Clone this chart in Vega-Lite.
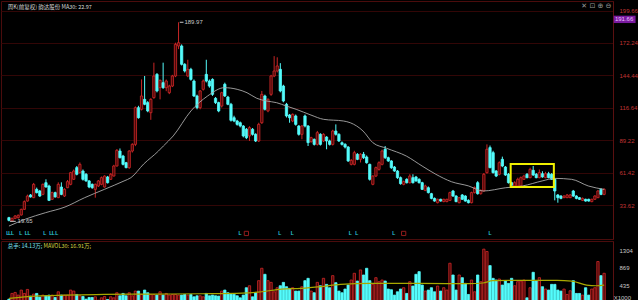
{
"$schema":"https://vega.github.io/schema/vega-lite/v6.json",
"background":"#000000",
"padding":0,
"spacing":0,
"config":{"view":{"stroke":"#4a0c0c","strokeWidth":1},"text":{"font":"Liberation Sans"}},
"datasets":{
"k":[
{"t":0,"o":22.8,"h":23.5,"l":19.65,"c":20.5,"v":95},
{"t":1,"o":20.0,"h":22.8,"l":19.7,"c":22.2,"v":236},
{"t":2,"o":22.2,"h":25,"l":21.5,"c":24.2,"v":261},
{"t":3,"o":22.8,"h":25.5,"l":22,"c":24.8,"v":195},
{"t":4,"o":25.1,"h":30.5,"l":24.5,"c":29.9,"v":319},
{"t":5,"o":29.9,"h":37.5,"l":29.5,"c":36.5,"v":236},
{"t":6,"o":37,"h":42.5,"l":36.5,"c":41.3,"v":335},
{"t":7,"o":42.2,"h":43,"l":40,"c":40.5,"v":170},
{"t":8,"o":39.9,"h":52.5,"l":39.5,"c":51.3,"v":220},
{"t":9,"o":47,"h":48.5,"l":43.5,"c":44.2,"v":236},
{"t":10,"o":45.6,"h":46.5,"l":40.5,"c":41.3,"v":145},
{"t":11,"o":42.7,"h":52,"l":42,"c":51.3,"v":195},
{"t":12,"o":52.7,"h":55.6,"l":48.5,"c":49,"v":178},
{"t":13,"o":49.9,"h":51,"l":37,"c":37.6,"v":195},
{"t":14,"o":38.5,"h":45,"l":38,"c":44.2,"v":195},
{"t":15,"o":44.2,"h":45,"l":40,"c":40.5,"v":137},
{"t":16,"o":39.9,"h":53,"l":39.5,"c":51.3,"v":277},
{"t":17,"o":49,"h":53,"l":42,"c":42.7,"v":195},
{"t":18,"o":41.3,"h":48,"l":40.5,"c":47,"v":195},
{"t":19,"o":48.4,"h":55,"l":48,"c":53.6,"v":195},
{"t":20,"o":51.3,"h":62,"l":50.5,"c":61.3,"v":319},
{"t":21,"o":55.6,"h":64,"l":55,"c":62.7,"v":294},
{"t":22,"o":65.6,"h":67,"l":59,"c":59.9,"v":211},
{"t":23,"o":61.3,"h":70,"l":60.5,"c":68.4,"v":178},
{"t":24,"o":62.7,"h":64,"l":54.5,"c":55.6,"v":161},
{"t":25,"o":59.9,"h":61,"l":53.5,"c":54.2,"v":95},
{"t":26,"o":54.2,"h":55,"l":48,"c":49,"v":137},
{"t":27,"o":51.3,"h":52,"l":47.5,"c":48.4,"v":137},
{"t":28,"o":47,"h":52,"l":39.9,"c":51.3,"v":153},
{"t":29,"o":49.9,"h":55,"l":49,"c":54.2,"v":70},
{"t":30,"o":51.3,"h":58,"l":50.5,"c":57,"v":128},
{"t":31,"o":49,"h":59,"l":48.5,"c":58.4,"v":161},
{"t":32,"o":57.6,"h":58.5,"l":52,"c":52.7,"v":87},
{"t":33,"o":55.6,"h":61,"l":55,"c":59.9,"v":153},
{"t":34,"o":58.4,"h":68,"l":58,"c":67,"v":128},
{"t":35,"o":67,"h":81.5,"l":66.5,"c":80.4,"v":253},
{"t":36,"o":79.8,"h":82,"l":73.5,"c":74.1,"v":178},
{"t":37,"o":75.5,"h":76.5,"l":67.5,"c":68.4,"v":236},
{"t":38,"o":69.8,"h":70.5,"l":65,"c":65.6,"v":178},
{"t":39,"o":65.6,"h":80.5,"l":64.5,"c":79.8,"v":253},
{"t":40,"o":79.8,"h":86.5,"l":78.5,"c":85.5,"v":178},
{"t":41,"o":85.5,"h":118,"l":84,"c":116.9,"v":294},
{"t":42,"o":116.9,"h":118.5,"l":107.5,"c":108.3,"v":294},
{"t":43,"o":115.5,"h":141.1,"l":114.5,"c":126.9,"v":211},
{"t":44,"o":124,"h":144,"l":119,"c":119.8,"v":319},
{"t":45,"o":121.2,"h":122.5,"l":113,"c":114.1,"v":253},
{"t":46,"o":112.6,"h":125,"l":106.5,"c":124,"v":211},
{"t":47,"o":125.5,"h":155.4,"l":124.5,"c":144,"v":211},
{"t":48,"o":145.4,"h":146.5,"l":130,"c":131.2,"v":195},
{"t":49,"o":134,"h":141,"l":124,"c":140.3,"v":277},
{"t":50,"o":138.3,"h":155.4,"l":133,"c":134,"v":195},
{"t":51,"o":134,"h":141,"l":131,"c":139.7,"v":236},
{"t":52,"o":129.7,"h":136.5,"l":128.5,"c":135.4,"v":195},
{"t":53,"o":135.4,"h":145,"l":134.5,"c":144,"v":211},
{"t":54,"o":144,"h":172.5,"l":143,"c":171.1,"v":211},
{"t":55,"o":169.7,"h":189.97,"l":167,"c":172.5,"v":195},
{"t":56,"o":169.7,"h":171,"l":153,"c":154,"v":195},
{"t":57,"o":154,"h":155,"l":147,"c":148.3,"v":211},
{"t":58,"o":144,"h":157.9,"l":143,"c":149.7,"v":195},
{"t":59,"o":149.7,"h":151,"l":140,"c":141.1,"v":211},
{"t":60,"o":139.7,"h":141,"l":126,"c":126.9,"v":153},
{"t":61,"o":126.9,"h":128,"l":115.5,"c":116.9,"v":178},
{"t":62,"o":116.9,"h":132,"l":115.5,"c":131.2,"v":178},
{"t":63,"o":132.6,"h":141,"l":131.5,"c":139.7,"v":153},
{"t":64,"o":145.4,"h":157.9,"l":138.5,"c":139.7,"v":236},
{"t":65,"o":139.7,"h":141,"l":134,"c":135.4,"v":178},
{"t":66,"o":141.1,"h":142,"l":127,"c":128.3,"v":195},
{"t":67,"o":124.9,"h":126,"l":120,"c":121.2,"v":178},
{"t":68,"o":121.2,"h":122,"l":113,"c":114.1,"v":170},
{"t":69,"o":118.3,"h":130.5,"l":117,"c":129.7,"v":294},
{"t":70,"o":136.9,"h":138.3,"l":126,"c":126.9,"v":319},
{"t":71,"o":126,"h":127,"l":119,"c":119.8,"v":253},
{"t":72,"o":119.8,"h":121,"l":105,"c":106.1,"v":220},
{"t":73,"o":108.3,"h":110,"l":104.5,"c":105.5,"v":211},
{"t":74,"o":105.5,"h":106.5,"l":101.5,"c":102.6,"v":178},
{"t":75,"o":104,"h":105,"l":100,"c":101.2,"v":128},
{"t":76,"o":101.2,"h":102,"l":91.5,"c":92.7,"v":195},
{"t":77,"o":98.4,"h":99.5,"l":90,"c":91.2,"v":377},
{"t":78,"o":92.7,"h":101,"l":88.4,"c":99.8,"v":426},
{"t":79,"o":98.4,"h":99.5,"l":93,"c":94.1,"v":153},
{"t":80,"o":94.1,"h":95,"l":87.5,"c":88.4,"v":253},
{"t":81,"o":88.4,"h":104,"l":87.5,"c":102.6,"v":551},
{"t":82,"o":104,"h":131.2,"l":103,"c":128.3,"v":857},
{"t":83,"o":126.9,"h":128,"l":114.5,"c":115.5,"v":708},
{"t":84,"o":114.1,"h":125,"l":113,"c":124,"v":551},
{"t":85,"o":128.3,"h":145,"l":127,"c":144,"v":509},
{"t":86,"o":144,"h":161,"l":143,"c":148.3,"v":277},
{"t":87,"o":148.3,"h":160,"l":147,"c":152.6,"v":377},
{"t":88,"o":149.7,"h":155,"l":130,"c":131.2,"v":426},
{"t":89,"o":135.4,"h":136.5,"l":121.5,"c":122.6,"v":509},
{"t":90,"o":119.8,"h":121,"l":108.5,"c":109.8,"v":402},
{"t":91,"o":110.6,"h":111.5,"l":104,"c":108.3,"v":360},
{"t":92,"o":105.5,"h":112,"l":104.5,"c":111.2,"v":377},
{"t":93,"o":109.8,"h":111,"l":101.5,"c":102.6,"v":294},
{"t":94,"o":101.2,"h":102,"l":93,"c":94.1,"v":294},
{"t":95,"o":94.1,"h":102,"l":89.9,"c":101.2,"v":402},
{"t":96,"o":109.8,"h":111,"l":100,"c":101.2,"v":551},
{"t":97,"o":101.2,"h":102,"l":84.1,"c":87,"v":609},
{"t":98,"o":87.8,"h":92,"l":87,"c":91.2,"v":294},
{"t":99,"o":89.8,"h":90.5,"l":84.5,"c":85.5,"v":253},
{"t":100,"o":85.5,"h":97,"l":84.5,"c":95.5,"v":509},
{"t":101,"o":94.1,"h":95,"l":84.5,"c":85.5,"v":426},
{"t":102,"o":88.4,"h":95,"l":87.5,"c":94.1,"v":609},
{"t":103,"o":91.8,"h":92.5,"l":81.3,"c":88.4,"v":460},
{"t":104,"o":88.4,"h":89.5,"l":84.5,"c":85.5,"v":377},
{"t":105,"o":85.5,"h":98,"l":84.5,"c":96.9,"v":675},
{"t":106,"o":96.9,"h":102.6,"l":93,"c":94.1,"v":501},
{"t":107,"o":94.1,"h":95,"l":87.5,"c":88.4,"v":294},
{"t":108,"o":86.9,"h":88,"l":84.5,"c":85.5,"v":253},
{"t":109,"o":85.5,"h":86.5,"l":82,"c":83.2,"v":344},
{"t":110,"o":83.2,"h":84,"l":70.5,"c":71.3,"v":443},
{"t":111,"o":68.4,"h":73,"l":67.5,"c":71.8,"v":567},
{"t":112,"o":68.4,"h":80,"l":67.5,"c":78.4,"v":733},
{"t":113,"o":77,"h":78,"l":72,"c":72.7,"v":542},
{"t":114,"o":72.7,"h":78,"l":70,"c":77,"v":816},
{"t":115,"o":77,"h":79,"l":73,"c":74.1,"v":691},
{"t":116,"o":74.7,"h":76,"l":69,"c":69.8,"v":857},
{"t":117,"o":68.4,"h":69,"l":54.5,"c":55.6,"v":551},
{"t":118,"o":51.3,"h":59,"l":50.5,"c":58.4,"v":460},
{"t":119,"o":58.4,"h":66.5,"l":57.5,"c":65.6,"v":625},
{"t":120,"o":64.1,"h":71,"l":63,"c":69.8,"v":526},
{"t":121,"o":68.4,"h":81,"l":67.5,"c":79.8,"v":567},
{"t":122,"o":81.3,"h":84.1,"l":73,"c":74.1,"v":542},
{"t":123,"o":74.1,"h":75,"l":70.5,"c":71.3,"v":344},
{"t":124,"o":71.3,"h":72,"l":64.5,"c":65.6,"v":327},
{"t":125,"o":66.1,"h":67,"l":62,"c":62.7,"v":195},
{"t":126,"o":62.7,"h":63.5,"l":56,"c":57,"v":277},
{"t":127,"o":57,"h":58,"l":51,"c":51.9,"v":344},
{"t":128,"o":51.3,"h":54.5,"l":50.5,"c":53.6,"v":377},
{"t":129,"o":55.6,"h":56.5,"l":52,"c":52.7,"v":236},
{"t":130,"o":52.7,"h":60,"l":52,"c":58.4,"v":526},
{"t":131,"o":57,"h":59.9,"l":52,"c":52.7,"v":418},
{"t":132,"o":57.6,"h":58.5,"l":53.5,"c":54.2,"v":708},
{"t":133,"o":55.6,"h":56.5,"l":52,"c":52.7,"v":774},
{"t":134,"o":52.7,"h":53.5,"l":46.5,"c":47,"v":443},
{"t":135,"o":46.1,"h":51,"l":45.5,"c":49.9,"v":294},
{"t":136,"o":48.4,"h":49.5,"l":43.5,"c":44.2,"v":319},
{"t":137,"o":43.3,"h":44,"l":38.5,"c":39.3,"v":377},
{"t":138,"o":39.3,"h":40,"l":36.5,"c":37,"v":277},
{"t":139,"o":35.6,"h":39,"l":35,"c":38.5,"v":418},
{"t":140,"o":38.5,"h":39,"l":36.5,"c":37,"v":294},
{"t":141,"o":36.5,"h":39,"l":36,"c":38.5,"v":377},
{"t":142,"o":36.5,"h":39,"l":36,"c":38.5,"v":319},
{"t":143,"o":37.6,"h":45,"l":37,"c":44.2,"v":981},
{"t":144,"o":45.6,"h":46.5,"l":40.5,"c":41.3,"v":691},
{"t":145,"o":41.3,"h":42,"l":36,"c":36.5,"v":319},
{"t":146,"o":35.6,"h":40.5,"l":35,"c":39.9,"v":691},
{"t":147,"o":42.2,"h":43,"l":38,"c":38.5,"v":625},
{"t":148,"o":41.3,"h":42,"l":36.5,"c":37,"v":484},
{"t":149,"o":37.6,"h":38.5,"l":35,"c":35.6,"v":211},
{"t":150,"o":35.6,"h":45,"l":35,"c":44.2,"v":567},
{"t":151,"o":44.2,"h":49.5,"l":43.5,"c":48.4,"v":277},
{"t":152,"o":52.7,"h":54,"l":42.5,"c":43.3,"v":691},
{"t":153,"o":43.3,"h":47,"l":42.5,"c":46.1,"v":526},
{"t":154,"o":45.6,"h":61,"l":45,"c":59.9,"v":1329},
{"t":155,"o":61.3,"h":85.5,"l":60.5,"c":81.3,"v":1271},
{"t":156,"o":82.7,"h":84.5,"l":65,"c":65.6,"v":923},
{"t":157,"o":78.4,"h":80,"l":60.5,"c":61.3,"v":609},
{"t":158,"o":62.7,"h":63.5,"l":57.5,"c":58.4,"v":567},
{"t":159,"o":59.9,"h":71,"l":59,"c":69.8,"v":592},
{"t":160,"o":72.7,"h":75,"l":66,"c":67,"v":443},
{"t":161,"o":66.1,"h":67,"l":58.5,"c":59.3,"v":551},
{"t":162,"o":59.9,"h":61,"l":52,"c":52.7,"v":484},
{"t":163,"o":52.7,"h":53.5,"l":50,"c":50.5,"v":609},
{"t":164,"o":49.9,"h":54,"l":49,"c":52.7,"v":426},
{"t":165,"o":49.9,"h":57,"l":49,"c":55.6,"v":526},
{"t":166,"o":49.9,"h":58,"l":49,"c":57,"v":542},
{"t":167,"o":55.6,"h":59.5,"l":55,"c":58.4,"v":567},
{"t":168,"o":59.9,"h":61,"l":56.5,"c":57,"v":128},
{"t":169,"o":57,"h":65.5,"l":56.5,"c":64.1,"v":377},
{"t":170,"o":63.3,"h":67,"l":58.5,"c":59.3,"v":758},
{"t":171,"o":59.9,"h":61,"l":56.5,"c":57,"v":542},
{"t":172,"o":57,"h":64,"l":56.5,"c":61.3,"v":625},
{"t":173,"o":60.4,"h":62.5,"l":57,"c":57.6,"v":402},
{"t":174,"o":57,"h":62,"l":56.5,"c":60.4,"v":344},
{"t":175,"o":60.4,"h":62,"l":56.5,"c":57,"v":319},
{"t":176,"o":59.9,"h":61,"l":55,"c":55.6,"v":460},
{"t":177,"o":55.6,"h":56.5,"l":37.6,"c":45.6,"v":460},
{"t":178,"o":42.2,"h":43,"l":35.6,"c":39.9,"v":319},
{"t":179,"o":41.3,"h":42,"l":38.5,"c":39.3,"v":294},
{"t":180,"o":39.9,"h":42,"l":39.5,"c":41.3,"v":344},
{"t":181,"o":39.9,"h":43,"l":39.5,"c":42.2,"v":211},
{"t":182,"o":39.9,"h":43,"l":39.5,"c":42.2,"v":302},
{"t":183,"o":45.6,"h":46.5,"l":40.5,"c":41.3,"v":551},
{"t":184,"o":41.3,"h":42,"l":38.5,"c":39.3,"v":236},
{"t":185,"o":39.9,"h":40.5,"l":38,"c":38.5,"v":236},
{"t":186,"o":37.6,"h":40,"l":37,"c":39.3,"v":195},
{"t":187,"o":38.5,"h":39,"l":36.5,"c":37,"v":377},
{"t":188,"o":38.5,"h":39,"l":36.5,"c":37,"v":195},
{"t":189,"o":36.5,"h":39,"l":36,"c":38.5,"v":344},
{"t":190,"o":38.5,"h":42,"l":38,"c":41.3,"v":377},
{"t":191,"o":39.9,"h":46.5,"l":39.5,"c":45.6,"v":1023},
{"t":192,"o":47,"h":48,"l":42,"c":42.7,"v":675},
{"t":193,"o":42.7,"h":48,"l":42,"c":47,"v":733}
],
"ma":[
{"t":0,"v":15.6},{"t":5.42,"v":21.6},{"t":11.8,"v":27},{"t":18.18,"v":31.9},{"t":24.56,"v":39.9},{"t":30.94,"v":47},{"t":37.32,"v":54.2},{"t":39.55,"v":57},{"t":43.7,"v":68.7},{"t":48.48,"v":79.8},{"t":50.08,"v":84.1},{"t":53.27,"v":92.7},{"t":59.01,"v":114.1},{"t":64.43,"v":126.9},{"t":69.86,"v":134},{"t":74,"v":132.6},{"t":77.2,"v":129.7},{"t":80.38,"v":124.9},{"t":83.57,"v":122.6},{"t":86.76,"v":121.2},{"t":89.95,"v":118.3},{"t":93.14,"v":115.5},{"t":97.93,"v":110.6},{"t":102.07,"v":106.9},{"t":108.45,"v":105.5},{"t":110.69,"v":104},{"t":114.83,"v":96.9},{"t":118.02,"v":86.9},{"t":122.49,"v":82.1},{"t":128.87,"v":75.5},{"t":133.97,"v":67},{"t":138.44,"v":59.9},{"t":143.54,"v":53.5},{"t":148.96,"v":50},{"t":153.75,"v":45.6},{"t":161.08,"v":48.4},{"t":166.51,"v":49.9},{"t":172.89,"v":54.2},{"t":177.03,"v":56.4},{"t":182.46,"v":55.6},{"t":187.88,"v":49.9},{"t":193,"v":47}
],
"vma":[
{"t":0,"v":112},{"t":8.6,"v":170},{"t":18.2,"v":194},{"t":30.9,"v":211},{"t":46.9,"v":220},{"t":62.8,"v":228},{"t":75.6,"v":244},{"t":82,"v":277},{"t":88.4,"v":344},{"t":94.7,"v":360},{"t":101.1,"v":402},{"t":107.5,"v":460},{"t":117.1,"v":484},{"t":133,"v":484},{"t":149,"v":476},{"t":153.7,"v":493},{"t":156.9,"v":551},{"t":164.9,"v":559},{"t":177.7,"v":559},{"t":182.5,"v":542},{"t":187.3,"v":443},{"t":190.5,"v":426},{"t":193,"v":443}
],
"ev":[
{"t":-0.4,"kind":"c"},{"t":0.3,"kind":"c"},{"t":1.2,"kind":"c"},{"t":3.8,"kind":"c"},{"t":5.6,"kind":"c"},{"t":6.5,"kind":"c"},{"t":11.6,"kind":"c"},{"t":13.6,"kind":"c"},{"t":14.4,"kind":"c"},{"t":15.5,"kind":"c"},{"t":74.9,"kind":"c"},{"t":87.8,"kind":"c"},{"t":91.9,"kind":"c"},{"t":110.7,"kind":"c"},{"t":112.8,"kind":"c"},{"t":124.8,"kind":"c"},{"t":156,"kind":"c"},{"t":77,"kind":"r"},{"t":128,"kind":"r"}
]
},
"vconcat":[
{
"width":612,"height":238,
"layer":[
{"data":{"name":"k"},"mark":{"type":"rule","strokeWidth":1},
 "encoding":{
  "x":{"field":"t","type":"quantitative","scale":{"domain":[-0.957,194.26],"nice":false,"zero":false},"axis":null},
  "y":{"field":"l","type":"quantitative","scale":{"domain":[4.53,208.17],"nice":false,"zero":false},
       "axis":{"orient":"right","title":null,"values":[33.62,61.42,89.22,116.64,144.44,172.24,199.66],"tickCount":20,"format":".2f","grid":true,"gridColor":"#320606","gridWidth":1,"domain":true,"domainColor":"#5a1010","ticks":false,"labelColor":"#c03434","labelFontSize":6,"labelFont":"Liberation Sans","labelPadding":6,"labelOverlap":false,"labelBound":false,"labelFlush":false}},
  "y2":{"field":"h"},
  "color":{"condition":{"test":"datum.c>=datum.o","value":"#c82626"},"value":"#54fcfc"}}},
{"data":{"name":"k"},"mark":{"type":"bar","width":2.3,"strokeWidth":0.8},
 "encoding":{
  "x":{"field":"t","type":"quantitative"},
  "y":{"field":"o","type":"quantitative","title":null},
  "y2":{"field":"c"},
  "fill":{"condition":{"test":"datum.c>=datum.o","value":"#4a0808"},"value":"#54fcfc"},
  "stroke":{"condition":{"test":"datum.c>=datum.o","value":"#d02828"},"value":"#54fcfc"}}},
{"data":{"name":"ma"},"mark":{"type":"line","color":"#a8a8a8","strokeWidth":0.9,"interpolate":"monotone"},
 "encoding":{"x":{"field":"t","type":"quantitative"},"y":{"field":"v","type":"quantitative","title":null}}},
{"data":{"name":"ev"},"transform":[{"filter":"datum.kind=='c'"}],"mark":{"type":"text","text":"L","fontSize":5,"color":"#2cc8d8","baseline":"middle","align":"center","fontWeight":"bold"},
 "encoding":{"x":{"field":"t","type":"quantitative"},"y":{"datum":9.3}}},
{"data":{"name":"ev"},"transform":[{"filter":"datum.kind=='r'"}],"mark":{"type":"point","shape":"square","size":18,"color":"#d02828","filled":false,"strokeWidth":1},
 "encoding":{"x":{"field":"t","type":"quantitative"},"y":{"datum":9.3}}},
{"data":{"values":[{}]},"mark":{"type":"rect","fill":"transparent","stroke":"#f0f000","strokeWidth":2},
 "encoding":{"x":{"datum":162.7},"x2":{"datum":176.7},"y":{"datum":68.7},"y2":{"datum":49}}},
{"data":{"values":[{}]},"mark":{"type":"rule","color":"#c8c8c8","strokeWidth":1},
 "encoding":{"x":{"datum":55.4},"x2":{"datum":56.6},"y":{"datum":189.97}}},
{"data":{"values":[{}]},"mark":{"type":"text","text":"189.97","fontSize":6,"color":"#c8c8c8","align":"left","baseline":"middle"},
 "encoding":{"x":{"datum":56.9},"y":{"datum":189.97}}},
{"data":{"values":[{}]},"mark":{"type":"rule","color":"#c8c8c8","strokeWidth":1},
 "encoding":{"x":{"datum":0.35},"x2":{"datum":2.2},"y":{"datum":19.65}}},
{"data":{"values":[{}]},"mark":{"type":"text","text":"19.65","fontSize":6,"color":"#c8c8c8","align":"left","baseline":"middle"},
 "encoding":{"x":{"datum":2.8},"y":{"datum":19.65}}},
{"data":{"values":[{}]},"mark":{"type":"text","text":"周K(前复权)  韵达股份  MA30: 22.97","fontSize":5.5,"font":"Noto Sans CJK SC","color":"#d8d8d8","align":"left","baseline":"middle"},
 "encoding":{"x":{"datum":-0.4},"y":{"datum":203}}},
{"data":{"values":[{}]},"mark":{"type":"text","text":"✕ ⊡ ⊕ ⊖","fontSize":7,"font":"DejaVu Sans","color":"#9a9a9a","align":"left","baseline":"middle"},
 "encoding":{"x":{"datum":185.6},"y":{"datum":203.6}}},
{"data":{"values":[{}]},"mark":{"type":"rect","fill":"#7a1aa0"},
 "encoding":{"x":{"datum":196.1},"x2":{"datum":203.2},"y":{"datum":195.6},"y2":{"datum":189.3}}},
{"data":{"values":[{}]},"mark":{"type":"text","text":"191.66","fontSize":6,"color":"#e8c0ff","align":"left","baseline":"middle"},
 "encoding":{"x":{"datum":196.5},"y":{"datum":192.4}}}
]
},
{
"width":612,"height":62,
"layer":[
{"data":{"name":"k"},"mark":{"type":"bar","width":2.3,"strokeWidth":0.8},
 "encoding":{
  "x":{"field":"t","type":"quantitative","scale":{"domain":[-0.957,194.26],"nice":false,"zero":false},"axis":null},
  "y":{"field":"v","type":"quantitative","scale":{"domain":[0,1530],"nice":false},
       "axis":{"orient":"right","title":null,"values":[435,869,1304],"tickCount":20,"format":"d","grid":false,"domain":true,"domainColor":"#5a1010","ticks":false,"labelColor":"#c8c8c8","labelFontSize":6,"labelFont":"Liberation Sans","labelPadding":6,"labelOverlap":false,"labelBound":false,"labelFlush":false}},
  "fill":{"condition":{"test":"datum.c>=datum.o","value":"#4a0808"},"value":"#54fcfc"},
  "stroke":{"condition":{"test":"datum.c>=datum.o","value":"#d02828"},"value":"#54fcfc"}}},
{"data":{"name":"vma"},"mark":{"type":"line","color":"#a8a800","strokeWidth":1.2,"interpolate":"monotone"},
 "encoding":{"x":{"field":"t","type":"quantitative"},"y":{"field":"v","type":"quantitative","title":null}}},
{"data":{"values":[{}]},"mark":{"type":"text","text":"总手: 14.13万;","fontSize":5.5,"font":"Noto Sans CJK SC","color":"#7fe0f0","align":"left","baseline":"middle"},
 "encoding":{"x":{"datum":-0.4},"y":{"datum":1405}}},
{"data":{"values":[{}]},"mark":{"type":"text","text":"MAVOL30: 16.91万;","fontSize":5.5,"font":"Noto Sans CJK SC","color":"#d8d840","align":"left","baseline":"middle"},
 "encoding":{"x":{"datum":11.2},"y":{"datum":1405}}},
{"data":{"values":[{}]},"mark":{"type":"text","text":"X1000","fontSize":6,"color":"#c8c8c8","align":"left","baseline":"middle"},
 "encoding":{"x":{"datum":196.1},"y":{"datum":130}}}
]
}
]
}
